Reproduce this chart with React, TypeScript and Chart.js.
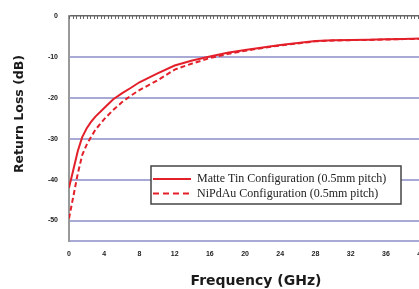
import React, { useEffect, useRef } from 'react';
import { Chart, registerables } from 'chart.js';

Chart.register(...registerables);

const frequencies = [0, 0.5, 1, 1.5, 2, 2.5, 3, 4, 5, 6, 7, 8, 10, 12, 14, 16, 18, 20, 22, 24, 26, 28, 30, 32, 34, 36, 38, 40];
const matteTin = [-42, -37.5, -33, -29.6, -27.5, -25.9, -24.6, -22.5, -20.4, -18.9, -17.6, -16.2, -14.1, -12.1, -10.9, -9.9, -9.0, -8.3, -7.7, -7.1, -6.6, -6.1, -5.9, -5.85, -5.8, -5.7, -5.6, -5.5];
const niPdAu = [-49.5, -44, -38.5, -34, -31.5, -29.6, -27.8, -25.2, -23, -21.1, -19.5, -18.1, -15.8, -13.1, -11.6, -10.3, -9.3, -8.5, -7.8, -7.2, -6.7, -6.2, -6.0, -5.9, -5.85, -5.75, -5.65, -5.6];
const seriesLabels = ['Matte Tin Configuration (0.5mm pitch)', 'NiPdAu Configuration (0.5mm pitch)'];
const xTickStep = 4;
const yTickStep = 10;
const xRange = [0, 40];
const yRange = [-55, 0];
const minorTickStep = 0.4;
const xTitle = 'Frequency (GHz)';
const yTitle = 'Return Loss (dB)';

const RED = '#e3202a';
const GRID = '#a9a9d6';
const TITLE_FONT_FAMILY = '"DejaVu Sans", "Open Sans", sans-serif';

const decorPlugin = {
  id: 'decor',
  afterDraw(chart: any) {
    const { ctx, chartArea, scales } = chart;
    const xs = scales.x;
    ctx.save();
    // minor ticks along the top edge
    ctx.strokeStyle = '#666';
    ctx.lineWidth = 1;
    ctx.beginPath();
    for (let v = xs.min; v <= xs.max + 1e-9; v += minorTickStep) {
      const px = Math.round(xs.getPixelForValue(v)) + 0.5;
      ctx.moveTo(px, chartArea.top);
      ctx.lineTo(px, chartArea.top + 3);
    }
    ctx.stroke();

    // axis titles
    ctx.fillStyle = '#1a1a1a';
    ctx.textAlign = 'center';
    ctx.textBaseline = 'alphabetic';
    ctx.font = `bold 14px ${TITLE_FONT_FAMILY}`;
    ctx.fillText(xTitle, 256, 284.5);
    ctx.save();
    ctx.translate(23, 114);
    ctx.rotate(-Math.PI / 2);
    ctx.font = `bold 12.5px ${TITLE_FONT_FAMILY}`;
    ctx.fillText(yTitle, 0, 0);
    ctx.restore();

    // legend box
    const bx = 151, by = 166, bw = 250, bh = 38;
    ctx.fillStyle = '#ffffff';
    ctx.fillRect(bx, by, bw, bh);
    ctx.strokeStyle = '#444';
    ctx.lineWidth = 1.5;
    ctx.strokeRect(bx, by, bw, bh);
    ctx.font = '12px "Liberation Serif", serif';
    ctx.textBaseline = 'middle';
    ctx.textAlign = 'left';
    chart.data.datasets.forEach((ds: any, i: number) => {
      const y = by + 13 + i * 14.5;
      ctx.strokeStyle = ds.borderColor;
      ctx.lineWidth = 2;
      ctx.setLineDash(ds.borderDash && ds.borderDash.length ? [6, 4] : []);
      ctx.beginPath();
      ctx.moveTo(bx + 2, y);
      ctx.lineTo(bx + 40, y);
      ctx.stroke();
      ctx.setLineDash([]);
      ctx.fillStyle = '#222';
      ctx.fillText(ds.label, bx + 46, y);
    });
    ctx.restore();
  },
};

export default function App() {
  const ref = useRef<HTMLCanvasElement>(null);
  useEffect(() => {
    if (!ref.current) return;
    const tickFont = { family: '"Liberation Sans", Arial, sans-serif', size: 7, weight: 'bold' as const };
    const chart = new Chart(ref.current, {
      type: 'line',
      data: {
        datasets: [
          {
            label: seriesLabels[0],
            data: frequencies.map((f, i) => ({ x: f, y: matteTin[i] })),
            borderColor: RED,
            borderWidth: 2,
            pointRadius: 0,
            tension: 0,
            fill: false,
          },
          {
            label: seriesLabels[1],
            data: frequencies.map((f, i) => ({ x: f, y: niPdAu[i] })),
            borderColor: RED,
            borderWidth: 2,
            borderDash: [5, 3],
            pointRadius: 0,
            tension: 0,
            fill: false,
          },
        ],
      },
      options: {
        animation: false,
        responsive: false,
        devicePixelRatio: 1,
        layout: { padding: { top: 16, right: 0, left: 0, bottom: 0 } },
        plugins: { legend: { display: false }, tooltip: { enabled: false } },
        scales: {
          x: {
            type: 'linear',
            min: xRange[0],
            max: xRange[1],
            ticks: { stepSize: xTickStep, font: tickFont, color: '#222', padding: 9, maxRotation: 0 },
            grid: { display: false, drawTicks: false },
            border: { display: true, color: GRID, width: 2 },
            title: { display: false, text: xTitle },
            afterFit: (s: any) => { s.height = 48; },
          },
          y: {
            type: 'linear',
            min: yRange[0],
            max: yRange[1],
            ticks: {
              stepSize: yTickStep,
              font: tickFont,
              color: '#222',
              padding: 11,
              callback: (v: any) => (Number(v) % yTickStep === 0 ? String(v) : ''),
            },
            grid: {
              drawTicks: false,
              color: (c: any) => (c.tick && c.tick.value === 0 ? '#666' : GRID),
              lineWidth: (c: any) => (c.tick && c.tick.value === 0 ? 1.5 : 2),
            },
            border: { display: true, color: '#999', width: 2 },
            title: { display: false, text: yTitle },
            afterFit: (s: any) => { s.width = 69; },
          },
        },
      },
      plugins: [decorPlugin],
    });
    return () => chart.destroy();
  }, []);
  return (
    <div style={{ position: 'fixed', left: 0, top: 0, width: 419, height: 289, overflow: 'hidden', background: '#fff' }}>
      <canvas ref={ref} width={434} height={289} style={{ display: 'block' }} />
    </div>
  );
}
